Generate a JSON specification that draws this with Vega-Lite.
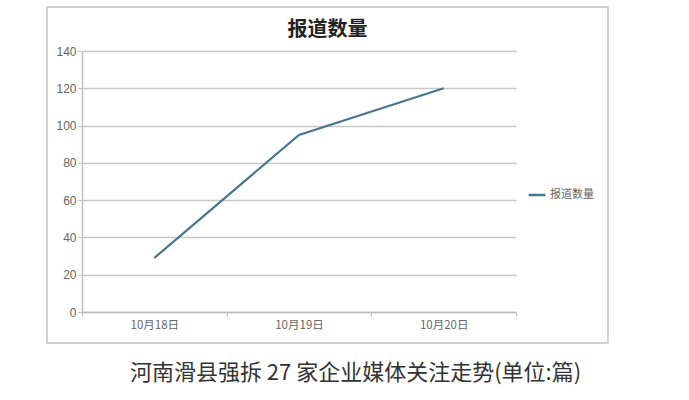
{
  "$schema": "https://vega.github.io/schema/vega-lite/v6.json",
  "autosize": {"type": "none"},
  "width": 561,
  "height": 336,
  "padding": {"left": 47, "top": 7, "right": 81, "bottom": 57},
  "background": "#ffffff",
  "title": {
    "text": "报道数量",
    "anchor": "middle",
    "frame": "group",
    "offset": -33,
    "fontSize": 20,
    "fontWeight": "bold",
    "font": "Noto Sans CJK SC",
    "color": "#222222"
  },
  "data": {
    "values": [
      {"date": "10月18日", "count": 29},
      {"date": "10月19日", "count": 95},
      {"date": "10月20日", "count": 120}
    ]
  },
  "mark": {"type": "line", "strokeWidth": 2.2},
  "encoding": {
    "x": {
      "field": "date",
      "type": "ordinal",
      "sort": null,
      "scale": {"type": "band", "range": [35, 469], "paddingInner": 0, "paddingOuter": 0},
      "axis": {
        "title": "河南滑县强拆 27 家企业媒体关注走势(单位:篇)",
        "titleX": 308,
        "titleY": 60,
        "titleBaseline": "middle",
        "titleFontSize": 22,
        "titleFontWeight": "normal",
        "titleFont": "Noto Sans CJK SC",
        "titleColor": "#333333",
        "offset": -31,
        "labelAngle": 0,
        "tickBand": "extent",
        "tickSize": 4,
        "tickColor": "#bfbfbf",
        "domainColor": "#bfbfbf",
        "domainWidth": 1.5,
        "labelFontSize": 11.5,
        "labelFont": "Noto Sans CJK SC",
        "labelColor": "#666666",
        "labelPadding": 3,
        "grid": false
      }
    },
    "y": {
      "field": "count",
      "type": "quantitative",
      "scale": {"domain": [0, 140], "range": [305, 44], "nice": false, "zero": true},
      "axis": {
        "title": null,
        "offset": -35,
        "values": [0, 20, 40, 60, 80, 100, 120, 140],
        "tickSize": 4,
        "tickColor": "#bfbfbf",
        "domainColor": "#bfbfbf",
        "domainWidth": 1.5,
        "gridColor": "#c8c8c8",
        "gridWidth": 1.5,
        "labelFontSize": 12,
        "labelFont": "Liberation Sans",
        "labelColor": "#666666",
        "labelPadding": 2
      }
    },
    "color": {
      "datum": "报道数量",
      "scale": {"range": ["#4a7590"]},
      "legend": {
        "title": null,
        "orient": "none",
        "legendX": 480,
        "legendY": 178,
        "symbolType": "stroke",
        "symbolSize": 280,
        "symbolStrokeWidth": 2.5,
        "labelFontSize": 11,
        "labelFont": "Noto Sans CJK SC",
        "labelColor": "#666666",
        "labelOffset": 3
      }
    }
  },
  "config": {
    "view": {"stroke": "#c4c4c4", "strokeWidth": 1.5}
  }
}
